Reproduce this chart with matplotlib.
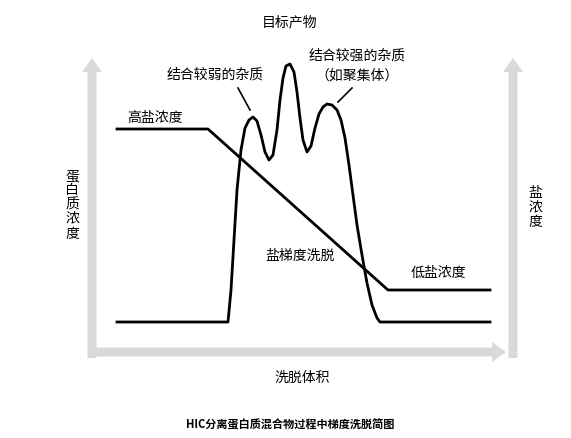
import matplotlib.pyplot as plt
from matplotlib.patches import FancyArrow

plt.rcParams['font.family'] = ['Noto Sans CJK SC', 'DejaVu Sans']

# chromatogram trace (pixel coords)
peak_x = [117, 228, 231, 234, 237, 241, 245, 249, 253, 257, 261, 265, 269, 273,
          277, 280, 283, 286, 290, 294, 297, 300, 303, 307, 311, 315, 319, 323,
          327, 332, 337, 341, 345, 349, 353, 357, 362, 367, 372, 377, 380, 490]
peak_y = [322, 322, 290, 240, 190, 150, 128, 120, 117, 121, 135, 152, 160, 155,
          130, 100, 78, 66, 64, 72, 92, 118, 140, 152, 146, 128, 114, 107,
          104, 105, 110, 120, 138, 165, 195, 225, 255, 283, 305, 318, 322, 322]

# salt gradient line
grad_x = [117, 208, 388, 490]
grad_y = [129, 129, 290, 290]

labels = [
    ("目标产物", 290, 22),
    ("结合较弱的杂质", 215, 75),
    ("结合较强的杂质", 357, 56),
    ("（如聚集体）", 357, 76),
    ("高盐浓度", 155, 118),
    ("盐梯度洗脱", 300, 256),
    ("低盐浓度", 438, 273),
    ("洗脱体积", 302, 378),
]

fig = plt.figure(figsize=(5.71, 4.38), dpi=100)
ax = fig.add_axes([0, 0, 1, 1])
ax.set_xlim(0, 571)
ax.set_ylim(438, 0)
ax.axis('off')

grey = '#d9d9d9'
ax.add_patch(FancyArrow(92, 358, 0, -300, width=9, head_width=20, head_length=14,
                        length_includes_head=True, color=grey, lw=0))
ax.add_patch(FancyArrow(88, 352, 418, 0, width=9, head_width=20, head_length=14,
                        length_includes_head=True, color=grey, lw=0))
ax.add_patch(FancyArrow(513, 358, 0, -300, width=9, head_width=20, head_length=14,
                        length_includes_head=True, color=grey, lw=0))

ax.plot(peak_x, peak_y, color='black', lw=2, solid_joinstyle='round')
ax.plot(grad_x, grad_y, color='black', lw=2)

# pointer lines to the impurity peaks
ax.plot([238, 250], [88, 110], color='black', lw=1.2)
ax.plot([352, 338], [88, 102], color='black', lw=1.2)

for txt, x, y in labels:
    ax.text(x, y, txt, fontsize=10, ha='center', va='center')

ax.text(72, 205, "蛋\n白\n质\n浓\n度", fontsize=10, ha='center', va='center', linespacing=1.05)
ax.text(535, 208, "盐\n浓\n度", fontsize=10, ha='center', va='center', linespacing=1.05)
ax.text(290, 425, "HIC分离蛋白质混合物过程中梯度洗脱简图", fontsize=8, ha='center',
        va='center', fontweight='bold')

fig.savefig('out.png', dpi=100)
